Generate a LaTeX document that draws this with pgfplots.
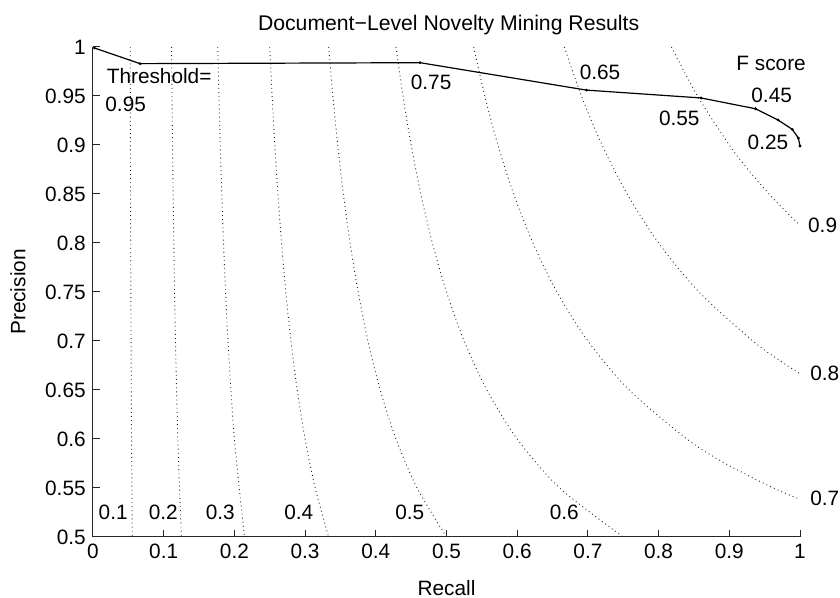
\documentclass[border=0pt]{standalone}
\usepackage{fontspec}
\setmainfont{Liberation Sans}
\usepackage{pgfplots}
\pgfplotsset{compat=1.18}
\begin{document}
\fontsize{10.4}{12}\selectfont
\begin{tikzpicture}
\path[use as bounding box] (-46.5pt,-30.5pt) rectangle (373.5pt,268.5pt);
\begin{axis}[
 scale only axis, width=353.5pt, height=245pt,
 xmin=0, xmax=1, ymin=0.5, ymax=1,
 axis x line=bottom, axis y line=left,
 axis line style={-, line width=0.5pt, black!85},
 tick style={line width=0.5pt, black!85},
 tick align=inside, major tick length=3.5pt,
 xtick={0,0.1,0.2,0.3,0.4,0.5,0.6,0.7,0.8,0.9,1},
 ytick={0.5,0.55,0.6,0.65,0.7,0.75,0.8,0.85,0.9,0.95,1},
 /pgf/number format/.cd, fixed, precision=2, assume math mode=true,
 /pgfplots/.cd,
 xlabel={Recall}, ylabel={Precision},
 xlabel style={at={(axis description cs:0.5,-0.104)}, anchor=center},
 ylabel style={at={(axis description cs:-0.106,0.5)}, anchor=center},
 clip=false,
]
% iso-F curves
\pgfplotsset{isof/.style={black!85, line width=0.45pt, dash pattern=on 0.45pt off 1.6pt, smooth, no markers}}
\addplot[isof] coordinates {(0.05263,1) (0.05294,0.9) (0.05333,0.8) (0.05385,0.7) (0.05455,0.6) (0.05556,0.5)};
\addplot[isof] coordinates {(0.11111,1) (0.1125,0.9) (0.11429,0.8) (0.11667,0.7) (0.12,0.6) (0.125,0.5)};
\addplot[isof] coordinates {(0.17647,1) (0.18,0.9) (0.18462,0.8) (0.19091,0.7) (0.2,0.6) (0.21429,0.5)};
\addplot[isof] coordinates {(0.25,1) (0.25333,0.95) (0.25714,0.9) (0.26154,0.85) (0.26667,0.8) (0.27273,0.75) (0.28,0.7) (0.28889,0.65) (0.3,0.6) (0.31429,0.55) (0.33333,0.5)};
\addplot[isof] coordinates {(0.33333,1) (0.33929,0.95) (0.34615,0.9) (0.35417,0.85) (0.36364,0.8) (0.375,0.75) (0.38889,0.7) (0.40625,0.65) (0.42857,0.6) (0.45833,0.55) (0.5,0.5)};
\addplot[isof] coordinates {(0.42857,1) (0.43846,0.95) (0.45,0.9) (0.46364,0.85) (0.48,0.8) (0.5,0.75) (0.525,0.7) (0.55714,0.65) (0.6,0.6) (0.66,0.55) (0.75,0.5)};
\addplot[isof] coordinates {(0.53846,1) (0.55417,0.95) (0.57273,0.9) (0.595,0.85) (0.62222,0.8) (0.65625,0.75) (0.7,0.7) (0.75833,0.65) (0.84,0.6) (0.89444,0.575) (0.9625,0.55) (1,0.53846)};
\addplot[isof] coordinates {(0.66667,1) (0.69091,0.95) (0.72,0.9) (0.75556,0.85) (0.8,0.8) (0.85714,0.75) (0.93333,0.7) (0.97143,0.68) (1,0.66667)};
\addplot[isof] coordinates {(0.81818,1) (0.855,0.95) (0.9,0.9) (0.92647,0.875) (0.95625,0.85) (0.98289,0.83) (1,0.81818)};
% precision-recall curve
\addplot[black, line width=0.6pt, mark=*, mark size=0.35pt] coordinates {
 (0.002,0.999) (0.0665,0.983) (0.4625,0.984) (0.698,0.956) (0.860,0.948) (0.937,0.937) (0.969,0.9255) (0.989,0.916) (0.9977,0.907) (1.0,0.899)};
% title
\node[anchor=base, inner sep=0pt, font=\fontsize{10.6}{12}\selectfont] at (axis description cs:0.503,1.0327) {Document−Level Novelty Mining Results};
% annotations
\tikzset{lab/.style={anchor=base west, inner sep=0pt}}
\node[lab] at (axis cs:0.019,0.963) {Threshold=};
\node[lab] at (axis cs:0.017,0.934) {0.95};
\node[lab] at (axis cs:0.449,0.9568) {0.75};
\node[lab] at (axis cs:0.688,0.967) {0.65};
\node[lab] at (axis cs:0.800,0.920) {0.55};
\node[lab] at (axis cs:0.9095,0.9765) {F score};
\node[lab] at (axis cs:0.9307,0.943) {0.45};
\node[lab] at (axis cs:0.9255,0.8956) {0.25};
\node[lab] at (axis cs:1.011,0.811) {0.9};
\node[lab] at (axis cs:1.014,0.660) {0.8};
\node[lab] at (axis cs:1.014,0.5326) {0.7};
\node[lab] at (axis cs:0.0075,0.5176) {0.1};
\node[lab] at (axis cs:0.0783,0.5176) {0.2};
\node[lab] at (axis cs:0.159,0.5176) {0.3};
\node[lab] at (axis cs:0.270,0.5176) {0.4};
\node[lab] at (axis cs:0.427,0.5176) {0.5};
\node[lab] at (axis cs:0.6455,0.5176) {0.6};
\end{axis}
\end{tikzpicture}
\end{document}
